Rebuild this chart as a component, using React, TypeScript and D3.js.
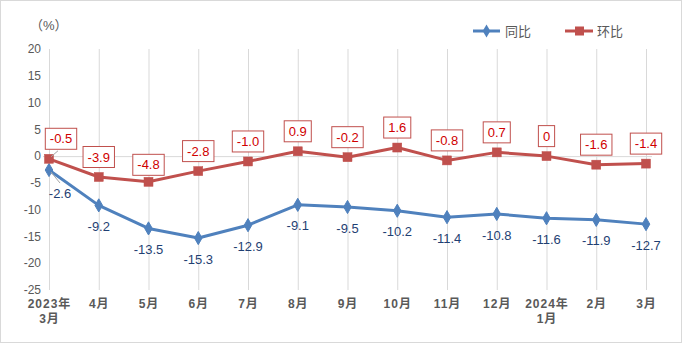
import React, { useEffect, useRef } from "react";
import * as d3 from "d3";

const categories: string[][] = [
  ["2023年", "3月"], ["4月"], ["5月"], ["6月"], ["7月"], ["8月"], ["9月"],
  ["10月"], ["11月"], ["12月"], ["2024年", "1月"], ["2月"], ["3月"],
];
const yoySeries = [-2.6, -9.2, -13.5, -15.3, -12.9, -9.1, -9.5, -10.2, -11.4, -10.8, -11.6, -11.9, -12.7];
const momSeries = [-0.5, -3.9, -4.8, -2.8, -1.0, 0.9, -0.2, 1.6, -0.8, 0.7, 0, -1.6, -1.4];
const yTicks = [20, 15, 10, 5, 0, -5, -10, -15, -20, -25];
const seriesNames = ["同比", "环比"];
const unitLabel = "（%）";

const W = 682;
const H = 343;
const BLUE = "#4F81BD";
const RED = "#C0504D";
const AXIS_TEXT = "#595959";
const GRID = "#D9D9D9";
const FONT = "'Liberation Sans', 'Noto Sans CJK SC', sans-serif";

export default function App() {
  const ref = useRef<SVGSVGElement>(null);

  useEffect(() => {
    document.body.style.margin = "0";
    const svg = d3.select(ref.current);
    svg.selectAll("*").remove();

    const x = d3.scalePoint<number>().domain(d3.range(categories.length)).range([49, 646]);
    const y = d3.scaleLinear().domain([-25, 20]).range([290, 49]);

    // border
    svg.append("rect").attr("x", 0.5).attr("y", 0.5).attr("width", W - 1).attr("height", H - 1)
      .attr("fill", "#fff").attr("stroke", GRID);

    // vertical gridlines
    svg.append("g").selectAll("line").data(d3.range(categories.length)).join("line")
      .attr("x1", (d) => x(d)! + 0.5).attr("x2", (d) => x(d)! + 0.5)
      .attr("y1", y(20)).attr("y2", y(-25))
      .attr("stroke", GRID).attr("stroke-width", 1);

    // zero line
    svg.append("line").attr("x1", 43).attr("x2", 652).attr("y1", y(0) + 0.5).attr("y2", y(0) + 0.5)
      .attr("stroke", GRID).attr("stroke-width", 1);

    // y tick labels
    svg.append("g").selectAll("text").data(yTicks).join("text")
      .attr("x", 41).attr("y", (d) => y(d)).attr("dy", "0.35em")
      .attr("text-anchor", "end").attr("font-family", FONT).attr("font-size", 12)
      .attr("fill", AXIS_TEXT).text((d) => String(d));

    // unit label
    svg.append("text").attr("x", 30).attr("y", 30).attr("font-family", FONT)
      .attr("font-size", 13).attr("fill", AXIS_TEXT).text(unitLabel);

    // x labels
    const xl = svg.append("g").selectAll("text").data(categories).join("text")
      .attr("text-anchor", "middle").attr("font-family", FONT).attr("font-size", 12)
      .attr("font-weight", "bold").attr("fill", AXIS_TEXT).attr("letter-spacing", 1);
    xl.each(function (d, i) {
      const t = d3.select(this);
      d.forEach((line, j) => {
        t.append("tspan").attr("x", x(i)! + 0.5).attr("y", 308 + j * 15).text(line);
      });
    });

    // lines
    const lineGen = d3.line<number>().x((_, i) => x(i)!).y((d) => y(d));
    svg.append("path").datum(yoySeries).attr("d", lineGen).attr("fill", "none")
      .attr("stroke", BLUE).attr("stroke-width", 3).attr("stroke-linejoin", "round");
    svg.append("path").datum(momSeries).attr("d", lineGen).attr("fill", "none")
      .attr("stroke", RED).attr("stroke-width", 3).attr("stroke-linejoin", "round");

    // markers
    const diamond = d3.symbol().type(d3.symbolDiamond).size(50);
    svg.append("g").selectAll("path").data(yoySeries).join("path")
      .attr("d", diamond).attr("transform", (d, i) => `translate(${x(i)},${y(d)})`)
      .attr("fill", BLUE).attr("stroke", BLUE);
    svg.append("g").selectAll("rect").data(momSeries).join("rect")
      .attr("x", (_, i) => x(i)! - 4.5).attr("y", (d) => y(d) - 4.5)
      .attr("width", 9).attr("height", 9).attr("fill", RED).attr("stroke", RED).attr("stroke-width", 0.5);

    // leader lines for first points
    svg.append("line").attr("x1", x(0)! + 2).attr("y1", y(momSeries[0]) - 2)
      .attr("x2", x(0)! + 9).attr("y2", y(momSeries[0]) - 8).attr("stroke", "#A6A6A6");
    svg.append("line").attr("x1", x(0)! + 2).attr("y1", y(yoySeries[0]) + 2)
      .attr("x2", x(0)! + 11).attr("y2", y(yoySeries[0]) + 13).attr("stroke", "#A6A6A6");

    // yoy labels (below)
    svg.append("g").selectAll("text").data(yoySeries).join("text")
      .attr("x", (_, i) => x(i)! + (i === 0 ? 11 : 0))
      .attr("y", (d, i) => y(d) + (i === 0 ? 23 : 21))
      .attr("dy", "0.35em").attr("text-anchor", "middle").attr("font-family", FONT)
      .attr("font-size", 13).attr("fill", "#1F3F73").text((d) => d.toFixed(1));

    // mom labels (boxed, above)
    const mg = svg.append("g").selectAll("g").data(momSeries).join("g")
      .attr("transform", (d, i) => `translate(${x(i)! + (i === 0 ? 12 : 0)},${y(d) - 20 + (i === 2 ? 3 : 0)})`);
    mg.append("rect").attr("fill", "#fff").attr("stroke", RED).attr("stroke-width", 1);
    mg.append("text").attr("text-anchor", "middle").attr("dy", "0.35em")
      .attr("font-family", FONT).attr("font-size", 13).attr("fill", "#D00000")
      .text((d) => (d === 0 ? "0" : d.toFixed(1)));
    mg.each(function () {
      const g = d3.select(this);
      const tw = (g.select("text").node() as SVGTextElement).getComputedTextLength();
      g.select("rect").attr("x", -tw / 2 - 4.5).attr("y", -10.5).attr("width", tw + 9).attr("height", 21);
    });

    // legend
    const lg = svg.append("g");
    lg.append("line").attr("x1", 473).attr("x2", 500).attr("y1", 31).attr("y2", 31)
      .attr("stroke", BLUE).attr("stroke-width", 3);
    lg.append("path").attr("d", diamond).attr("transform", "translate(486.5,31)").attr("fill", BLUE);
    lg.append("text").attr("x", 505).attr("y", 31).attr("dy", "0.35em").attr("font-family", FONT)
      .attr("font-size", 13).attr("fill", AXIS_TEXT).text(seriesNames[0]);
    lg.append("line").attr("x1", 565).attr("x2", 593).attr("y1", 31).attr("y2", 31)
      .attr("stroke", RED).attr("stroke-width", 3);
    lg.append("rect").attr("x", 575).attr("y", 26.5).attr("width", 9).attr("height", 9).attr("fill", RED);
    lg.append("text").attr("x", 597).attr("y", 31).attr("dy", "0.35em").attr("font-family", FONT)
      .attr("font-size", 13).attr("fill", AXIS_TEXT).text(seriesNames[1]);
  }, []);

  return <svg ref={ref} width={W} height={H} style={{ display: "block" }} />;
}
